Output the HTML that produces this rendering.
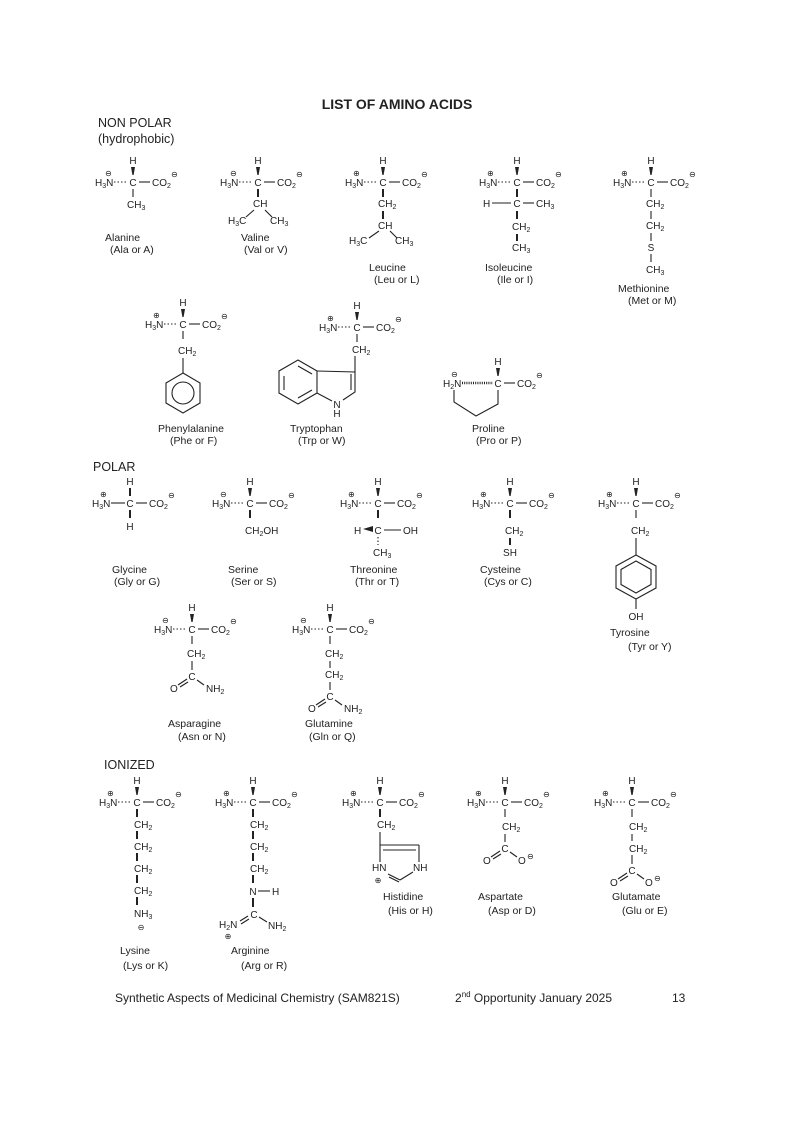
<!DOCTYPE html>
<html><head><meta charset="utf-8"><style>
html,body{margin:0;padding:0;background:#fff}
svg{display:block}
text{font-family:"Liberation Sans",sans-serif;font-size:10px;fill:#222}
.s{font-size:7px}
.c{font-size:8px;font-family:"DejaVu Sans",sans-serif}
.n{font-size:10.5px}
.h{font-size:12.5px}
line,polyline,polygon.r,circle.r{stroke:#222;stroke-width:1.1;fill:none}
.d{stroke-dasharray:1.5 2}
.b{stroke-width:2}
polygon.w{fill:#222}
</style></head><body>
<svg width="794" height="1122" viewBox="0 0 794 1122" xmlns="http://www.w3.org/2000/svg">
<text x="397" y="109" text-anchor="middle" style="font-size:14px;font-weight:bold">LIST OF AMINO ACIDS</text>
<text x="98" y="127" class="h">NON POLAR</text>
<text x="98" y="143" class="h">(hydrophobic)</text>

<!-- Alanine -->
<g transform="translate(133,186)">
<text x="-38" y="0">H<tspan class="s" dy="2">3</tspan><tspan dy="-2">N</tspan></text><text x="-28" y="-10" class="c">⊖</text>
<line x1="-19" y1="-4" x2="-5" y2="-4" class="d"/><text x="0" y="0" text-anchor="middle">C</text>
<line x1="6" y1="-4" x2="17" y2="-4"/><text x="19" y="0">CO<tspan class="s" dy="2">2</tspan></text><text x="38" y="-9" class="c">⊖</text>
<text x="0" y="-22" text-anchor="middle">H</text><polygon class="w" points="-2,-19 2,-19 0.6,-11 -0.6,-11"/>
<line x1="0" y1="3" x2="0" y2="11"/><text x="-6" y="22">CH<tspan class="s" dy="2">3</tspan></text>
</g>
<text x="105" y="241" class="n">Alanine</text><text x="110" y="253" class="n">(Ala or A)</text>

<!-- Valine -->
<g transform="translate(258,186)">
<text x="-38" y="0">H<tspan class="s" dy="2">3</tspan><tspan dy="-2">N</tspan></text><text x="-28" y="-10" class="c">⊖</text>
<line x1="-19" y1="-4" x2="-5" y2="-4" class="d"/><text x="0" y="0" text-anchor="middle">C</text>
<line x1="6" y1="-4" x2="17" y2="-4"/><text x="19" y="0">CO<tspan class="s" dy="2">2</tspan></text><text x="38" y="-9" class="c">⊖</text>
<text x="0" y="-22" text-anchor="middle">H</text><polygon class="w" points="-2,-19 2,-19 0.6,-11 -0.6,-11"/>
<line x1="0" y1="3" x2="0" y2="11" class="b"/><text x="-5" y="21">CH</text>
<line x1="-4" y1="24" x2="-12" y2="31"/><line x1="7" y1="24" x2="14" y2="31"/>
<text x="-30" y="38">H<tspan class="s" dy="2">3</tspan><tspan dy="-2">C</tspan></text><text x="12" y="38">CH<tspan class="s" dy="2">3</tspan></text>
</g>
<text x="241" y="241" class="n">Valine</text><text x="244" y="253" class="n">(Val or V)</text>

<!-- Leucine -->
<g transform="translate(383,186)">
<text x="-38" y="0">H<tspan class="s" dy="2">3</tspan><tspan dy="-2">N</tspan></text><text x="-30" y="-10" class="c">⊕</text>
<line x1="-19" y1="-4" x2="-5" y2="-4" class="d"/><text x="0" y="0" text-anchor="middle">C</text>
<line x1="6" y1="-4" x2="17" y2="-4"/><text x="19" y="0">CO<tspan class="s" dy="2">2</tspan></text><text x="38" y="-9" class="c">⊖</text>
<text x="0" y="-22" text-anchor="middle">H</text><polygon class="w" points="-2,-19 2,-19 0.6,-11 -0.6,-11"/>
<line x1="0" y1="3" x2="0" y2="11" class="b"/><text x="-5" y="21">CH<tspan class="s" dy="2">2</tspan></text>
<line x1="0" y1="25" x2="0" y2="33" class="b"/><text x="-5" y="43">CH</text>
<line x1="-4" y1="45" x2="-14" y2="52"/><line x1="7" y1="45" x2="14" y2="52"/>
<text x="-34" y="58">H<tspan class="s" dy="2">3</tspan><tspan dy="-2">C</tspan></text><text x="12" y="58">CH<tspan class="s" dy="2">3</tspan></text>
</g>
<text x="369" y="271" class="n">Leucine</text><text x="374" y="283" class="n">(Leu or L)</text>

<!-- Isoleucine -->
<g transform="translate(517,186)">
<text x="-38" y="0">H<tspan class="s" dy="2">3</tspan><tspan dy="-2">N</tspan></text><text x="-30" y="-10" class="c">⊕</text>
<line x1="-19" y1="-4" x2="-5" y2="-4" class="d"/><text x="0" y="0" text-anchor="middle">C</text>
<line x1="6" y1="-4" x2="17" y2="-4"/><text x="19" y="0">CO<tspan class="s" dy="2">2</tspan></text><text x="38" y="-9" class="c">⊖</text>
<text x="0" y="-22" text-anchor="middle">H</text><polygon class="w" points="-2,-19 2,-19 0.6,-11 -0.6,-11"/>
<line x1="0" y1="3" x2="0" y2="11" class="b"/>
<text x="-34" y="21">H</text><line x1="-25" y1="17" x2="-6" y2="17"/><text x="0" y="21" text-anchor="middle">C</text><line x1="6" y1="17" x2="17" y2="17"/><text x="19" y="21">CH<tspan class="s" dy="2">3</tspan></text>
<line x1="0" y1="25" x2="0" y2="33" class="b"/><text x="-5" y="44">CH<tspan class="s" dy="2">2</tspan></text>
<line x1="0" y1="48" x2="0" y2="55" class="b"/><text x="-5" y="65">CH<tspan class="s" dy="2">3</tspan></text>
</g>
<text x="485" y="271" class="n">Isoleucine</text><text x="497" y="283" class="n">(Ile or I)</text>

<!-- Methionine -->
<g transform="translate(651,186)">
<text x="-38" y="0">H<tspan class="s" dy="2">3</tspan><tspan dy="-2">N</tspan></text><text x="-30" y="-10" class="c">⊕</text>
<line x1="-19" y1="-4" x2="-5" y2="-4" class="d"/><text x="0" y="0" text-anchor="middle">C</text>
<line x1="6" y1="-4" x2="17" y2="-4"/><text x="19" y="0">CO<tspan class="s" dy="2">2</tspan></text><text x="38" y="-9" class="c">⊖</text>
<text x="0" y="-22" text-anchor="middle">H</text><polygon class="w" points="-2,-19 2,-19 0.6,-11 -0.6,-11"/>
<line x1="0" y1="3" x2="0" y2="11"/><text x="-5" y="21">CH<tspan class="s" dy="2">2</tspan></text>
<line x1="0" y1="25" x2="0" y2="33"/><text x="-5" y="43">CH<tspan class="s" dy="2">2</tspan></text>
<line x1="0" y1="47" x2="0" y2="55"/><text x="0" y="65" text-anchor="middle">S</text>
<line x1="0" y1="68" x2="0" y2="76"/><text x="-5" y="87">CH<tspan class="s" dy="2">3</tspan></text>
</g>
<text x="618" y="292" class="n">Methionine</text><text x="628" y="304" class="n">(Met or M)</text>

<!-- Phenylalanine -->
<g transform="translate(183,328)">
<text x="-38" y="0">H<tspan class="s" dy="2">3</tspan><tspan dy="-2">N</tspan></text><text x="-30" y="-10" class="c">⊕</text>
<line x1="-19" y1="-4" x2="-5" y2="-4" class="d"/><text x="0" y="0" text-anchor="middle">C</text>
<line x1="6" y1="-4" x2="17" y2="-4"/><text x="19" y="0">CO<tspan class="s" dy="2">2</tspan></text><text x="38" y="-9" class="c">⊖</text>
<text x="0" y="-22" text-anchor="middle">H</text><polygon class="w" points="-2,-19 2,-19 0.6,-11 -0.6,-11"/>
<line x1="0" y1="3" x2="0" y2="11"/><text x="-5" y="26">CH<tspan class="s" dy="2">2</tspan></text>
<line x1="0" y1="30" x2="0" y2="45"/>
<polygon class="r" points="0,45 17,55 17,75 0,85 -17,75 -17,55"/><circle class="r" cx="0" cy="65" r="11"/>
</g>
<text x="158" y="432" class="n">Phenylalanine</text><text x="170" y="444" class="n">(Phe or F)</text>

<!-- Tryptophan -->
<g transform="translate(357,331)">
<text x="-38" y="0">H<tspan class="s" dy="2">3</tspan><tspan dy="-2">N</tspan></text><text x="-30" y="-10" class="c">⊕</text>
<line x1="-19" y1="-4" x2="-5" y2="-4" class="d"/><text x="0" y="0" text-anchor="middle">C</text>
<line x1="6" y1="-4" x2="17" y2="-4"/><text x="19" y="0">CO<tspan class="s" dy="2">2</tspan></text><text x="38" y="-9" class="c">⊖</text>
<text x="0" y="-22" text-anchor="middle">H</text><polygon class="w" points="-2,-19 2,-19 0.6,-11 -0.6,-11"/>
<line x1="0" y1="3" x2="0" y2="11"/><text x="-5" y="22">CH<tspan class="s" dy="2">2</tspan></text>
<line x1="-2" y1="25" x2="-2" y2="41"/>
</g>
<polygon class="r" points="298,360 317,371 317,393 298,404 279,393 279,371"/>
<line x1="298" y1="366" x2="312" y2="374"/><line x1="284" y1="376" x2="284" y2="390"/><line x1="298" y1="398" x2="312" y2="390"/>
<polyline points="317,371 355,372 355,392 343,400"/><line x1="351" y1="374" x2="351" y2="390"/>
<line x1="317" y1="393" x2="332" y2="401"/>
<text x="337" y="408" text-anchor="middle">N</text><text x="337" y="417" text-anchor="middle">H</text>
<text x="290" y="432" class="n">Tryptophan</text><text x="298" y="444" class="n">(Trp or W)</text>

<!-- Proline -->
<g transform="translate(498,387)">
<text x="-55" y="0">H<tspan class="s" dy="2">2</tspan><tspan dy="-2">N</tspan></text><text x="-47" y="-10" class="c">⊖</text>
<line x1="-36" y1="-4" x2="-5" y2="-4" class="d" style="stroke-width:2.5;stroke-dasharray:1 1.2"/><text x="0" y="0" text-anchor="middle">C</text>
<line x1="6" y1="-4" x2="17" y2="-4"/><text x="19" y="0">CO<tspan class="s" dy="2">2</tspan></text><text x="38" y="-9" class="c">⊖</text>
<text x="0" y="-22" text-anchor="middle">H</text><polygon class="w" points="-2,-19 2,-19 0.6,-11 -0.6,-11"/>
<polyline points="-44,3 -44,15 -22,29 0,17 0,3"/>
</g>
<text x="472" y="432" class="n">Proline</text><text x="476" y="444" class="n">(Pro or P)</text>

<text x="93" y="471" class="h">POLAR</text>

<!-- Glycine -->
<g transform="translate(130,507)">
<text x="-38" y="0">H<tspan class="s" dy="2">3</tspan><tspan dy="-2">N</tspan></text><text x="-30" y="-10" class="c">⊕</text>
<line x1="-19" y1="-4" x2="-5" y2="-4"/><text x="0" y="0" text-anchor="middle">C</text>
<line x1="6" y1="-4" x2="17" y2="-4"/><text x="19" y="0">CO<tspan class="s" dy="2">2</tspan></text><text x="38" y="-9" class="c">⊖</text>
<text x="0" y="-22" text-anchor="middle">H</text><line x1="0" y1="-19" x2="0" y2="-11" class="b"/>
<line x1="0" y1="3" x2="0" y2="11" class="b"/><text x="0" y="23" text-anchor="middle">H</text>
</g>
<text x="112" y="573" class="n">Glycine</text><text x="114" y="585" class="n">(Gly or G)</text>

<!-- Serine -->
<g transform="translate(250,507)">
<text x="-38" y="0">H<tspan class="s" dy="2">3</tspan><tspan dy="-2">N</tspan></text><text x="-30" y="-10" class="c">⊖</text>
<line x1="-19" y1="-4" x2="-5" y2="-4" class="d"/><text x="0" y="0" text-anchor="middle">C</text>
<line x1="6" y1="-4" x2="17" y2="-4"/><text x="19" y="0">CO<tspan class="s" dy="2">2</tspan></text><text x="38" y="-9" class="c">⊖</text>
<text x="0" y="-22" text-anchor="middle">H</text><polygon class="w" points="-2,-19 2,-19 0.6,-11 -0.6,-11"/>
<line x1="0" y1="3" x2="0" y2="11" class="b"/><text x="-5" y="27">CH<tspan class="s" dy="2">2</tspan><tspan dy="-2">OH</tspan></text>
</g>
<text x="228" y="573" class="n">Serine</text><text x="231" y="585" class="n">(Ser or S)</text>

<!-- Threonine -->
<g transform="translate(378,507)">
<text x="-38" y="0">H<tspan class="s" dy="2">3</tspan><tspan dy="-2">N</tspan></text><text x="-30" y="-10" class="c">⊕</text>
<line x1="-19" y1="-4" x2="-5" y2="-4" class="d"/><text x="0" y="0" text-anchor="middle">C</text>
<line x1="6" y1="-4" x2="17" y2="-4"/><text x="19" y="0">CO<tspan class="s" dy="2">2</tspan></text><text x="38" y="-9" class="c">⊖</text>
<text x="0" y="-22" text-anchor="middle">H</text><polygon class="w" points="-2,-19 2,-19 0.6,-11 -0.6,-11"/>
<line x1="0" y1="3" x2="0" y2="11" class="b"/>
<text x="-24" y="27">H</text><polygon class="w" points="-15,22 -5,19 -5,25"/><text x="0" y="27" text-anchor="middle">C</text><line x1="6" y1="23" x2="23" y2="23"/><text x="25" y="27">OH</text>
<line x1="0" y1="30" x2="0" y2="38" class="d"/><text x="-5" y="49">CH<tspan class="s" dy="2">3</tspan></text>
</g>
<text x="350" y="573" class="n">Threonine</text><text x="355" y="585" class="n">(Thr or T)</text>

<!-- Cysteine -->
<g transform="translate(510,507)">
<text x="-38" y="0">H<tspan class="s" dy="2">3</tspan><tspan dy="-2">N</tspan></text><text x="-30" y="-10" class="c">⊕</text>
<line x1="-19" y1="-4" x2="-5" y2="-4" class="d"/><text x="0" y="0" text-anchor="middle">C</text>
<line x1="6" y1="-4" x2="17" y2="-4"/><text x="19" y="0">CO<tspan class="s" dy="2">2</tspan></text><text x="38" y="-9" class="c">⊖</text>
<text x="0" y="-22" text-anchor="middle">H</text><polygon class="w" points="-2,-19 2,-19 0.6,-11 -0.6,-11"/>
<line x1="0" y1="3" x2="0" y2="11" class="b"/><text x="-5" y="27">CH<tspan class="s" dy="2">2</tspan></text>
<line x1="0" y1="31" x2="0" y2="38" class="b"/><text x="0" y="49" text-anchor="middle">SH</text>
</g>
<text x="480" y="573" class="n">Cysteine</text><text x="484" y="585" class="n">(Cys or C)</text>

<!-- Tyrosine -->
<g transform="translate(636,507)">
<text x="-38" y="0">H<tspan class="s" dy="2">3</tspan><tspan dy="-2">N</tspan></text><text x="-30" y="-10" class="c">⊕</text>
<line x1="-19" y1="-4" x2="-5" y2="-4" class="d"/><text x="0" y="0" text-anchor="middle">C</text>
<line x1="6" y1="-4" x2="17" y2="-4"/><text x="19" y="0">CO<tspan class="s" dy="2">2</tspan></text><text x="38" y="-9" class="c">⊖</text>
<text x="0" y="-22" text-anchor="middle">H</text><polygon class="w" points="-2,-19 2,-19 0.6,-11 -0.6,-11"/>
<line x1="0" y1="3" x2="0" y2="11"/><text x="-5" y="27">CH<tspan class="s" dy="2">2</tspan></text>
<line x1="0" y1="31" x2="0" y2="48"/>
<polygon class="r" points="0,48 20,59 20,81 0,92 -20,81 -20,59"/>
<polygon class="r" points="0,54 15,62.5 15,77.5 0,86 -15,77.5 -15,62.5"/>
<line x1="0" y1="92" x2="0" y2="102"/><text x="0" y="113" text-anchor="middle">OH</text>
</g>
<text x="610" y="636" class="n">Tyrosine</text><text x="628" y="650" class="n">(Tyr or Y)</text>

<!-- Asparagine -->
<g transform="translate(192,633)">
<text x="-38" y="0">H<tspan class="s" dy="2">3</tspan><tspan dy="-2">N</tspan></text><text x="-30" y="-10" class="c">⊖</text>
<line x1="-19" y1="-4" x2="-5" y2="-4" class="d"/><text x="0" y="0" text-anchor="middle">C</text>
<line x1="6" y1="-4" x2="17" y2="-4"/><text x="19" y="0">CO<tspan class="s" dy="2">2</tspan></text><text x="38" y="-9" class="c">⊖</text>
<text x="0" y="-22" text-anchor="middle">H</text><polygon class="w" points="-2,-19 2,-19 0.6,-11 -0.6,-11"/>
<line x1="0" y1="3" x2="0" y2="11"/><text x="-5" y="24">CH<tspan class="s" dy="2">2</tspan></text>
<line x1="0" y1="28" x2="0" y2="37"/><text x="0" y="47" text-anchor="middle">C</text>
<line x1="-5" y1="46" x2="-14" y2="52"/><line x1="-4" y1="49" x2="-12" y2="54"/><text x="-22" y="59">O</text>
<line x1="5" y1="47" x2="12" y2="52"/><text x="14" y="59">NH<tspan class="s" dy="2">2</tspan></text>
</g>
<text x="168" y="727" class="n">Asparagine</text><text x="178" y="740" class="n">(Asn or N)</text>

<!-- Glutamine -->
<g transform="translate(330,633)">
<text x="-38" y="0">H<tspan class="s" dy="2">3</tspan><tspan dy="-2">N</tspan></text><text x="-30" y="-10" class="c">⊖</text>
<line x1="-19" y1="-4" x2="-5" y2="-4" class="d"/><text x="0" y="0" text-anchor="middle">C</text>
<line x1="6" y1="-4" x2="17" y2="-4"/><text x="19" y="0">CO<tspan class="s" dy="2">2</tspan></text><text x="38" y="-9" class="c">⊖</text>
<text x="0" y="-22" text-anchor="middle">H</text><polygon class="w" points="-2,-19 2,-19 0.6,-11 -0.6,-11"/>
<line x1="0" y1="3" x2="0" y2="11"/><text x="-5" y="24">CH<tspan class="s" dy="2">2</tspan></text>
<line x1="0" y1="28" x2="0" y2="35"/><text x="-5" y="45">CH<tspan class="s" dy="2">2</tspan></text>
<line x1="0" y1="49" x2="0" y2="57"/><text x="0" y="67" text-anchor="middle">C</text>
<line x1="-5" y1="66" x2="-14" y2="72"/><line x1="-4" y1="69" x2="-12" y2="74"/><text x="-22" y="79">O</text>
<line x1="5" y1="67" x2="12" y2="72"/><text x="14" y="79">NH<tspan class="s" dy="2">2</tspan></text>
</g>
<text x="305" y="727" class="n">Glutamine</text><text x="309" y="740" class="n">(Gln or Q)</text>

<text x="104" y="769" class="h">IONIZED</text>

<!-- Lysine -->
<g transform="translate(137,806)">
<text x="-38" y="0">H<tspan class="s" dy="2">3</tspan><tspan dy="-2">N</tspan></text><text x="-30" y="-10" class="c">⊕</text>
<line x1="-19" y1="-4" x2="-5" y2="-4" class="d"/><text x="0" y="0" text-anchor="middle">C</text>
<line x1="6" y1="-4" x2="17" y2="-4"/><text x="19" y="0">CO<tspan class="s" dy="2">2</tspan></text><text x="38" y="-9" class="c">⊖</text>
<text x="0" y="-22" text-anchor="middle">H</text><polygon class="w" points="-2,-19 2,-19 0.6,-11 -0.6,-11"/>
<line x1="0" y1="3" x2="0" y2="11" class="b"/><text x="-3" y="22">CH<tspan class="s" dy="2">2</tspan></text>
<line x1="0" y1="25" x2="0" y2="33" class="b"/><text x="-3" y="44">CH<tspan class="s" dy="2">2</tspan></text>
<line x1="0" y1="47" x2="0" y2="55" class="b"/><text x="-3" y="66">CH<tspan class="s" dy="2">2</tspan></text>
<line x1="0" y1="69" x2="0" y2="77" class="b"/><text x="-3" y="88">CH<tspan class="s" dy="2">2</tspan></text>
<line x1="0" y1="91" x2="0" y2="99" class="b"/><text x="-3" y="111">NH<tspan class="s" dy="2">3</tspan></text>
<text x="4" y="124" text-anchor="middle" class="c">⊖</text>
</g>
<text x="120" y="954" class="n">Lysine</text><text x="123" y="969" class="n">(Lys or K)</text>

<!-- Arginine -->
<g transform="translate(253,806)">
<text x="-38" y="0">H<tspan class="s" dy="2">3</tspan><tspan dy="-2">N</tspan></text><text x="-30" y="-10" class="c">⊕</text>
<line x1="-19" y1="-4" x2="-5" y2="-4" class="d"/><text x="0" y="0" text-anchor="middle">C</text>
<line x1="6" y1="-4" x2="17" y2="-4"/><text x="19" y="0">CO<tspan class="s" dy="2">2</tspan></text><text x="38" y="-9" class="c">⊖</text>
<text x="0" y="-22" text-anchor="middle">H</text><polygon class="w" points="-2,-19 2,-19 0.6,-11 -0.6,-11"/>
<line x1="0" y1="3" x2="0" y2="11" class="b"/><text x="-3" y="22">CH<tspan class="s" dy="2">2</tspan></text>
<line x1="0" y1="25" x2="0" y2="33" class="b"/><text x="-3" y="44">CH<tspan class="s" dy="2">2</tspan></text>
<line x1="0" y1="47" x2="0" y2="55" class="b"/><text x="-3" y="66">CH<tspan class="s" dy="2">2</tspan></text>
<line x1="0" y1="69" x2="0" y2="77" class="b"/><text x="0" y="89" text-anchor="middle">N</text><line x1="5" y1="85" x2="17" y2="85"/><text x="19" y="89">H</text>
<line x1="0" y1="92" x2="0" y2="101" class="b"/><text x="1" y="112" text-anchor="middle">C</text>
<line x1="-5" y1="110" x2="-13" y2="115"/><line x1="-4" y1="113" x2="-12" y2="118"/><text x="-34" y="122">H<tspan class="s" dy="2">2</tspan><tspan dy="-2">N</tspan></text>
<text x="-25" y="133" text-anchor="middle" class="c">⊕</text>
<line x1="6" y1="111" x2="14" y2="116"/><text x="15" y="123">NH<tspan class="s" dy="2">2</tspan></text>
</g>
<text x="231" y="954" class="n">Arginine</text><text x="241" y="969" class="n">(Arg or R)</text>

<!-- Histidine -->
<g transform="translate(380,806)">
<text x="-38" y="0">H<tspan class="s" dy="2">3</tspan><tspan dy="-2">N</tspan></text><text x="-30" y="-10" class="c">⊕</text>
<line x1="-19" y1="-4" x2="-5" y2="-4" class="d"/><text x="0" y="0" text-anchor="middle">C</text>
<line x1="6" y1="-4" x2="17" y2="-4"/><text x="19" y="0">CO<tspan class="s" dy="2">2</tspan></text><text x="38" y="-9" class="c">⊖</text>
<text x="0" y="-22" text-anchor="middle">H</text><polygon class="w" points="-2,-19 2,-19 0.6,-11 -0.6,-11"/>
<line x1="0" y1="3" x2="0" y2="11" class="b"/><text x="-3" y="22">CH<tspan class="s" dy="2">2</tspan></text>
<line x1="0" y1="26" x2="0" y2="56"/>
<line x1="0" y1="39" x2="39" y2="39"/><line x1="3" y1="44" x2="36" y2="44"/><line x1="39" y1="39" x2="39" y2="56"/>
<text x="-8" y="65">HN</text><text x="33" y="65">NH</text>
<line x1="8" y1="68" x2="20" y2="74"/><line x1="9" y1="71" x2="19" y2="76"/><line x1="20" y1="74" x2="33" y2="66"/>
<text x="-2" y="77" text-anchor="middle" class="c">⊕</text>
</g>
<text x="383" y="900" class="n">Histidine</text><text x="388" y="914" class="n">(His or H)</text>

<!-- Aspartate -->
<g transform="translate(505,806)">
<text x="-38" y="0">H<tspan class="s" dy="2">3</tspan><tspan dy="-2">N</tspan></text><text x="-30" y="-10" class="c">⊕</text>
<line x1="-19" y1="-4" x2="-5" y2="-4" class="d"/><text x="0" y="0" text-anchor="middle">C</text>
<line x1="6" y1="-4" x2="17" y2="-4"/><text x="19" y="0">CO<tspan class="s" dy="2">2</tspan></text><text x="38" y="-9" class="c">⊖</text>
<text x="0" y="-22" text-anchor="middle">H</text><polygon class="w" points="-2,-19 2,-19 0.6,-11 -0.6,-11"/>
<line x1="0" y1="3" x2="0" y2="11"/><text x="-3" y="24">CH<tspan class="s" dy="2">2</tspan></text>
<line x1="0" y1="28" x2="0" y2="36"/><text x="0" y="46" text-anchor="middle">C</text>
<line x1="-5" y1="45" x2="-14" y2="51"/><line x1="-4" y1="48" x2="-12" y2="53"/><text x="-22" y="58">O</text>
<line x1="5" y1="46" x2="12" y2="51"/><text x="13" y="58">O</text><text x="22" y="53" class="c">⊖</text>
</g>
<text x="478" y="900" class="n">Aspartate</text><text x="488" y="914" class="n">(Asp or D)</text>

<!-- Glutamate -->
<g transform="translate(632,806)">
<text x="-38" y="0">H<tspan class="s" dy="2">3</tspan><tspan dy="-2">N</tspan></text><text x="-30" y="-10" class="c">⊕</text>
<line x1="-19" y1="-4" x2="-5" y2="-4" class="d"/><text x="0" y="0" text-anchor="middle">C</text>
<line x1="6" y1="-4" x2="17" y2="-4"/><text x="19" y="0">CO<tspan class="s" dy="2">2</tspan></text><text x="38" y="-9" class="c">⊖</text>
<text x="0" y="-22" text-anchor="middle">H</text><polygon class="w" points="-2,-19 2,-19 0.6,-11 -0.6,-11"/>
<line x1="0" y1="3" x2="0" y2="11"/><text x="-3" y="24">CH<tspan class="s" dy="2">2</tspan></text>
<line x1="0" y1="28" x2="0" y2="35"/><text x="-3" y="46">CH<tspan class="s" dy="2">2</tspan></text>
<line x1="0" y1="49" x2="0" y2="58"/><text x="0" y="68" text-anchor="middle">C</text>
<line x1="-5" y1="67" x2="-14" y2="73"/><line x1="-4" y1="70" x2="-12" y2="75"/><text x="-22" y="80">O</text>
<line x1="5" y1="68" x2="12" y2="73"/><text x="13" y="80">O</text><text x="22" y="75" class="c">⊖</text>
</g>
<text x="612" y="900" class="n">Glutamate</text><text x="622" y="914" class="n">(Glu or E)</text>

<text x="115" y="1002" style="font-size:12px">Synthetic Aspects of Medicinal Chemistry (SAM821S)</text>
<text x="455" y="1002" style="font-size:12px">2<tspan style="font-size:8px" dy="-5">nd</tspan><tspan dy="5"> Opportunity January 2025</tspan></text>
<text x="672" y="1002" style="font-size:12px">13</text>
</svg>
</body></html>
